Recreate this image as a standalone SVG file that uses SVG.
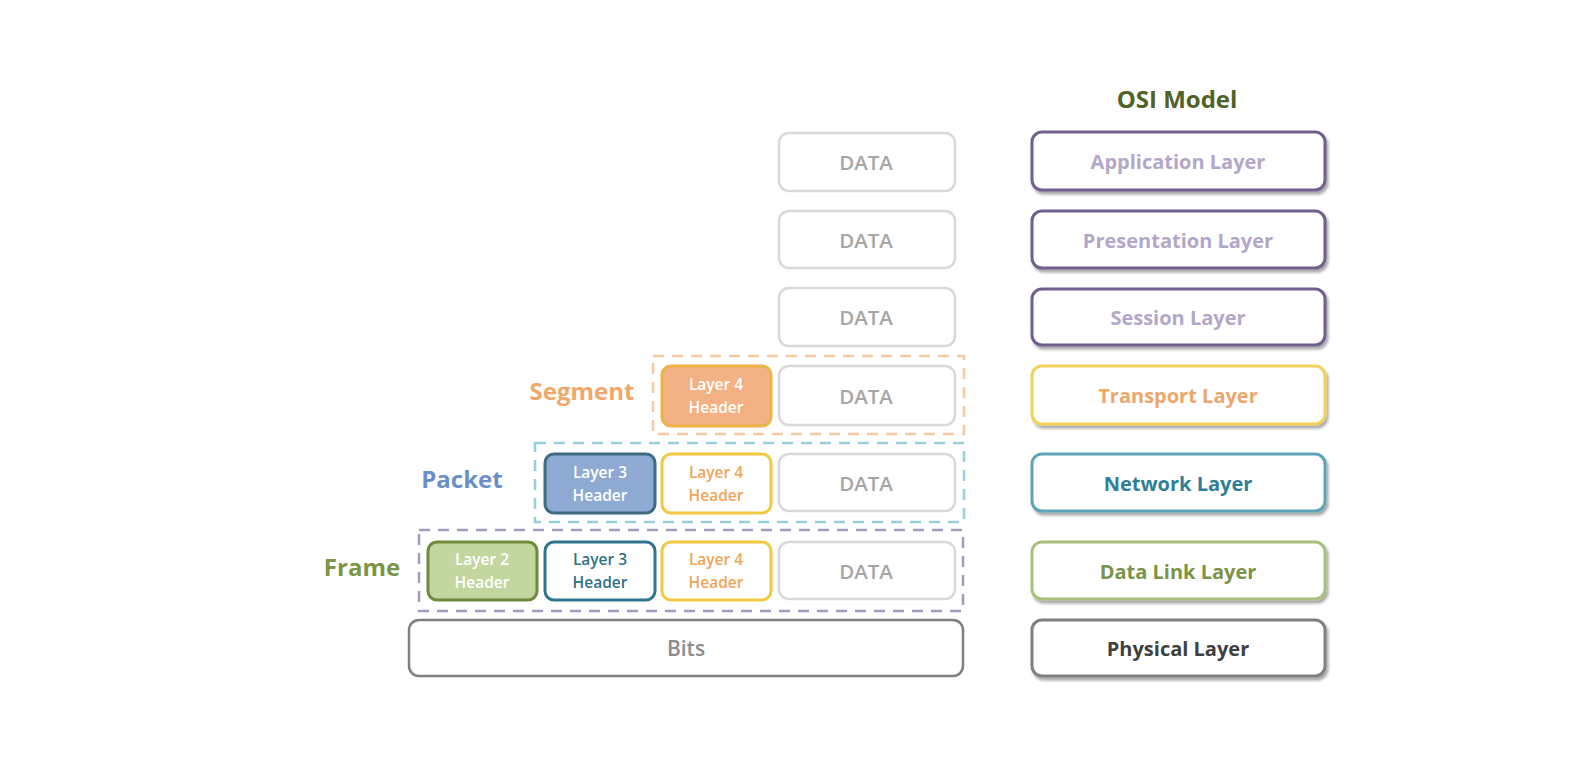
<svg xmlns="http://www.w3.org/2000/svg" width="1590" height="770" viewBox="0 0 1590 770">
<defs>
<filter id="sh" x="-10%" y="-20%" width="130%" height="150%">
<feGaussianBlur in="SourceAlpha" stdDeviation="1.5"/>
<feOffset dx="2" dy="3" result="b"/>
<feComponentTransfer><feFuncA type="linear" slope="0.35"/></feComponentTransfer>
<feMerge><feMergeNode/><feMergeNode in="SourceGraphic"/></feMerge>
</filter>
</defs>
<style>
text{font-family:"Open Sans",Lato,"Liberation Sans",sans-serif;text-anchor:middle;dominant-baseline:central;font-weight:600}
.osi{fill:#fff;stroke-width:3}
.osit{font-size:20px;font-weight:700}
.data{fill:#fff;stroke:#d9d9d9;stroke-width:2.5}
.datat{font-size:20.5px;fill:#a6a6a6}
.hdr{stroke-width:3}
.hdrt{font-size:15.5px}
.dash{fill:none;stroke-width:2.5;stroke-dasharray:11 8}
.lbl{font-size:24px;font-weight:700}
</style>
<rect width="1590" height="770" fill="#fff"/>

<text x="1177" y="98" style="font-size:24px;font-weight:700;fill:#4f6228">OSI Model</text>

<g id="osi-application"><rect class="osi" x="1032" y="132" width="293" height="58" rx="10" stroke="#6f5f8f" filter="url(#sh)"/><text class="osit" x="1178" y="161" fill="#b3a7c9">Application Layer</text></g>
<g id="osi-presentation"><rect class="osi" x="1032" y="211" width="293" height="57" rx="10" stroke="#6f5f8f" filter="url(#sh)"/><text class="osit" x="1178" y="240" fill="#b3a7c9">Presentation Layer</text></g>
<g id="osi-session"><rect class="osi" x="1032" y="289" width="293" height="56" rx="10" stroke="#6f5f8f" filter="url(#sh)"/><text class="osit" x="1178" y="317" fill="#b3a7c9">Session Layer</text></g>
<g id="osi-transport"><rect class="osi" x="1032" y="366" width="293" height="58" rx="10" stroke="#f2d25a" filter="url(#sh)"/><text class="osit" x="1178" y="395" fill="#eda66c">Transport Layer</text></g>
<g id="osi-network"><rect class="osi" x="1032" y="454" width="293" height="57" rx="10" stroke="#5fa3b8" filter="url(#sh)"/><text class="osit" x="1178" y="483" fill="#2f7f98">Network Layer</text></g>
<g id="osi-datalink"><rect class="osi" x="1032" y="542" width="293" height="57" rx="10" stroke="#a9c07a" filter="url(#sh)"/><text class="osit" x="1178" y="571" fill="#7a9448">Data Link Layer</text></g>
<g id="osi-physical"><rect class="osi" x="1032" y="620" width="293" height="56" rx="10" stroke="#808080" filter="url(#sh)"/><text class="osit" x="1178" y="648" fill="#404040">Physical Layer</text></g>

<g id="data-app"><rect class="data" x="779" y="133" width="176" height="58" rx="10"/><text class="datat" x="866" y="162">DATA</text></g>
<g id="data-pres"><rect class="data" x="779" y="211" width="176" height="57" rx="10"/><text class="datat" x="866" y="240">DATA</text></g>
<g id="data-sess"><rect class="data" x="779" y="288" width="176" height="58" rx="10"/><text class="datat" x="866" y="317">DATA</text></g>

<g id="segment">
<rect class="dash" x="653" y="356" width="311" height="78" stroke="#f7c9a0"/>
<text class="lbl" x="582" y="390" fill="#f0a86a">Segment</text>
<rect class="hdr" x="662" y="366" width="109" height="60" rx="9" fill="#f3b283" stroke="#ecb445"/>
<text class="hdrt" x="716" y="384" fill="#fff">Layer 4</text>
<text class="hdrt" x="716" y="407" fill="#fff">Header</text>
<rect class="data" x="779" y="366" width="176" height="59" rx="10" stroke="#d2dce6"/>
<text class="datat" x="866" y="396">DATA</text>
</g>

<g id="packet">
<rect class="dash" x="535" y="443" width="429" height="79" stroke="#98cfdc"/>
<text class="lbl" x="462" y="478" fill="#6a8fc7">Packet</text>
<rect class="hdr" x="545" y="454" width="110" height="59" rx="9" fill="#8eaad2" stroke="#3e6b83"/>
<text class="hdrt" x="600" y="472" fill="#fff">Layer 3</text>
<text class="hdrt" x="600" y="495" fill="#fff">Header</text>
<rect class="hdr" x="662" y="454" width="109" height="59" rx="9" fill="#fff" stroke="#f5c842"/>
<text class="hdrt" x="716" y="472" fill="#f0a456">Layer 4</text>
<text class="hdrt" x="716" y="495" fill="#f0a456">Header</text>
<rect class="data" x="779" y="454" width="176" height="57" rx="10"/>
<text class="datat" x="866" y="483">DATA</text>
</g>

<g id="frame">
<rect class="dash" x="419" y="530" width="544" height="81" stroke="#a39cbf"/>
<text class="lbl" x="362" y="566" fill="#7a9448">Frame</text>
<rect class="hdr" x="428" y="542" width="109" height="58" rx="9" fill="#c4d69f" stroke="#6f8a3c"/>
<text class="hdrt" x="482" y="559" fill="#fff">Layer 2</text>
<text class="hdrt" x="482" y="582" fill="#fff">Header</text>
<rect class="hdr" x="545" y="542" width="110" height="58" rx="9" fill="#fff" stroke="#2f7590"/>
<text class="hdrt" x="600" y="559" fill="#2f6f88">Layer 3</text>
<text class="hdrt" x="600" y="582" fill="#2f6f88">Header</text>
<rect class="hdr" x="662" y="542" width="109" height="58" rx="9" fill="#fff" stroke="#f5c842"/>
<text class="hdrt" x="716" y="559" fill="#f0a456">Layer 4</text>
<text class="hdrt" x="716" y="582" fill="#f0a456">Header</text>
<rect class="data" x="779" y="542" width="176" height="57" rx="10"/>
<text class="datat" x="866" y="571">DATA</text>
</g>

<g id="bits"><rect x="409" y="620" width="554" height="56" rx="10" fill="#fff" stroke="#7f7f7f" stroke-width="2.5"/><text x="686" y="648" style="font-size:21px;fill:#8c8c8c">Bits</text></g>

<g id="connectors"></g>
</svg>
